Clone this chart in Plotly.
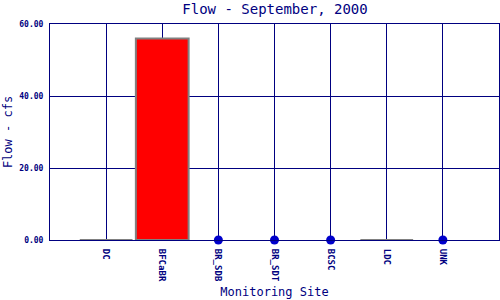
import plotly.graph_objects as go

sites = ["DC", "BFCaBR", "BR_SDB", "BR_SDT", "BCSC", "LDC", "UNK"]
bar_sites = ["DC", "BFCaBR", "LDC"]
bar_flow = [0.0, 56.0, 0.0]
dot_sites = ["BR_SDB", "BR_SDT", "BCSC", "UNK"]
dot_flow = [0.0, 0.0, 0.0, 0.0]
y_ticks = [0, 20, 40, 60]

navy = "#000080"
font = "DejaVu Sans Mono"

fig = go.Figure()
fig.add_trace(go.Bar(
    x=bar_sites, y=bar_flow, width=0.94,
    marker=dict(color="red", line=dict(color="#808080", width=2)),
))
fig.add_trace(go.Scatter(
    x=dot_sites, y=dot_flow, mode="markers",
    marker=dict(color="#0000cc", size=9), cliponaxis=False,
))

fig.update_layout(
    width=500, height=300,
    margin=dict(l=50, r=1, t=24, b=60),
    paper_bgcolor="white", plot_bgcolor="white",
    showlegend=False,
    title=dict(text="Flow - September, 2000", x=0.55, xanchor="center", y=0.985, yanchor="top",
               font=dict(family=font, size=14, color=navy)),
    font=dict(family=font, color=navy),
)
fig.update_xaxes(
    type="category", categoryorder="array", categoryarray=sites,
    range=[-1, 7], showgrid=True, gridcolor=navy, gridwidth=1,
    showline=True, linecolor=navy, linewidth=1, mirror=True,
    tickangle=90, tickfont=dict(family=font, size=9, color=navy, weight="bold"),
    ticks="outside", ticklen=6, tickcolor="rgba(0,0,0,0)",
    title=dict(text="Monitoring Site", font=dict(family=font, size=12, color=navy), standoff=6),
)
fig.update_yaxes(
    range=[0, 60], tickvals=y_ticks, tickformat=".2f",
    showgrid=True, gridcolor=navy, gridwidth=1, zeroline=True, zerolinecolor=navy, zerolinewidth=1,
    showline=True, linecolor=navy, linewidth=1, mirror=True,
    tickfont=dict(family=font, size=8, color=navy, weight="bold"),
    ticks="outside", ticklen=4, tickcolor="rgba(0,0,0,0)",
    title=dict(text="Flow - cfs", font=dict(family=font, size=12, color=navy), standoff=4),
)
fig.write_html("out.html")
